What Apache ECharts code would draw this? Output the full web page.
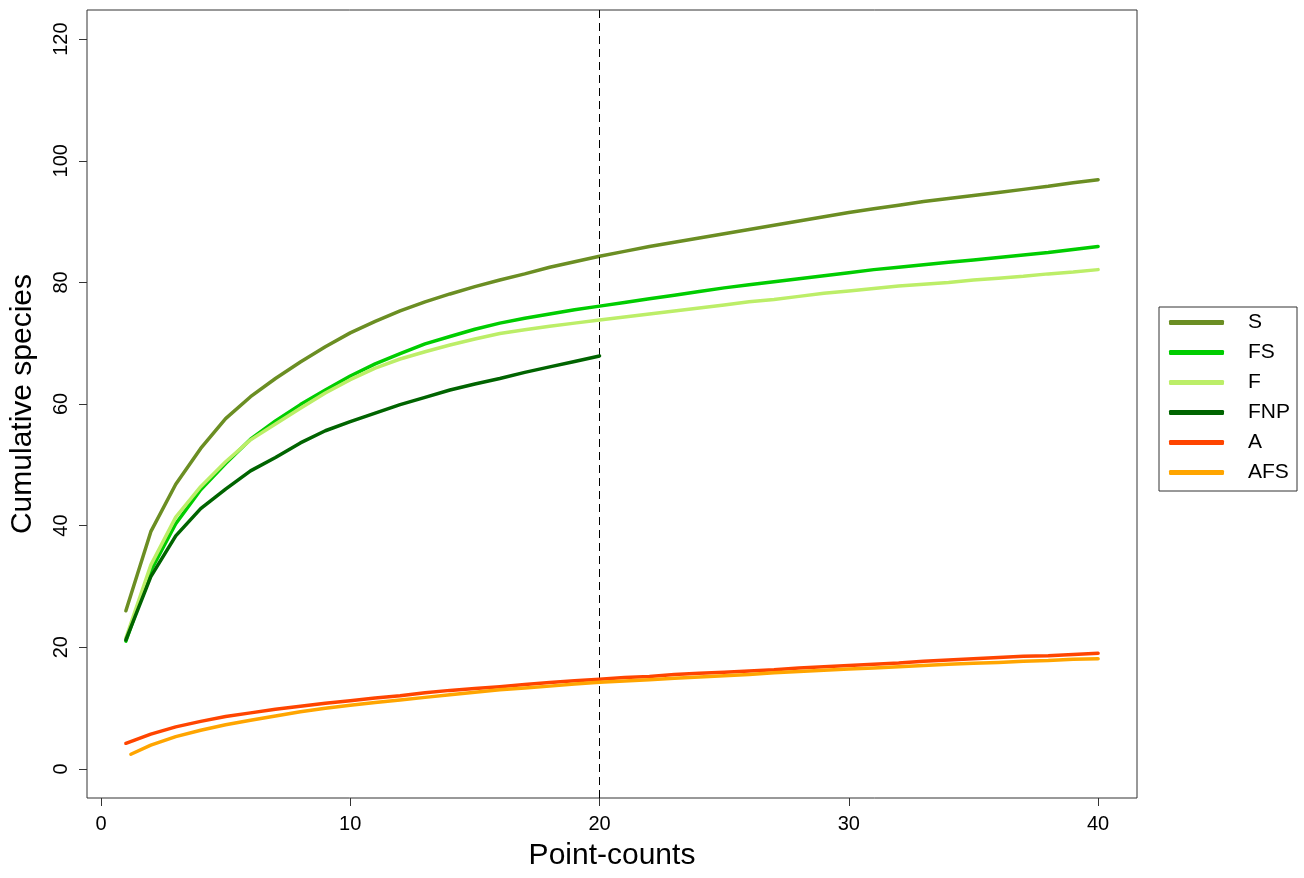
<!DOCTYPE html>
<html><head><meta charset="utf-8">
<script src="https://cdn.jsdelivr.net/npm/echarts@6/dist/echarts.min.js"></script>
<style>html,body{margin:0;padding:0;background:#fff}#c{width:1304px;height:878px}</style>
</head><body><div id="c"></div>
<script>
// ---- data ----
const pointCounts = [1,2,3,4,5,6,7,8,9,10,11,12,13,14,15,16,17,18,19,20,21,22,23,24,25,26,27,28,29,30,31,32,33,34,35,36,37,38,39,40];
const afsX = [1.2,2,3,4,5,6,7,8,9,10,11,12,13,14,15,16,17,18,19,20,21,22,23,24,25,26,27,28,29,30,31,32,33,34,35,36,37,38,39,40];
const S = [26.0,39.0,46.8,52.7,57.6,61.2,64.2,66.9,69.4,71.7,73.6,75.3,76.8,78.1,79.3,80.4,81.4,82.5,83.4,84.3,85.1,85.9,86.6,87.3,88.0,88.7,89.4,90.1,90.8,91.5,92.1,92.7,93.3,93.8,94.3,94.8,95.3,95.8,96.4,96.9];
const FS = [21.0,32.6,40.3,45.9,50.2,54.2,57.2,59.9,62.3,64.6,66.6,68.3,69.9,71.1,72.3,73.3,74.1,74.8,75.5,76.1,76.7,77.3,77.9,78.5,79.1,79.6,80.1,80.6,81.1,81.6,82.1,82.5,82.9,83.3,83.7,84.1,84.5,84.9,85.4,85.9];
const F = [21.5,33.5,41.4,46.4,50.5,54.1,56.7,59.3,61.8,64.0,65.9,67.4,68.6,69.7,70.7,71.6,72.2,72.8,73.3,73.8,74.3,74.8,75.3,75.8,76.3,76.8,77.2,77.7,78.2,78.6,79.0,79.4,79.7,80.0,80.4,80.7,81.0,81.4,81.7,82.1];
const FNP = [21.2,31.6,38.3,42.8,46.0,49.0,51.2,53.6,55.6,57.1,58.5,59.9,61.1,62.3,63.3,64.2,65.2,66.1,67.0,67.9];
const A = [4.2,5.7,6.9,7.8,8.6,9.2,9.8,10.3,10.8,11.2,11.65,12.0,12.5,12.9,13.2,13.5,13.85,14.2,14.5,14.75,15.0,15.2,15.5,15.7,15.9,16.1,16.3,16.6,16.8,17.0,17.2,17.4,17.7,17.9,18.1,18.3,18.5,18.6,18.8,19.0];
const AFS = [2.4,3.9,5.3,6.35,7.25,8.0,8.7,9.4,9.95,10.45,10.9,11.3,11.75,12.2,12.6,13.0,13.3,13.6,13.95,14.25,14.45,14.65,14.9,15.1,15.3,15.5,15.8,16.0,16.2,16.4,16.6,16.8,17.0,17.2,17.35,17.5,17.7,17.8,18.0,18.1];
const seriesNames = ['S','FS','F','FNP','A','AFS'];
const xTicks = [0,10,20,30,40];
const yTicks = [0,20,40,60,80,100,120];
const cutoff = 20;

// ---- chart ----
const colors = {S:'#6B8E23', FS:'#00CD00', F:'#BCEE68', FNP:'#006400', A:'#FF4500', AFS:'#FFA500'};
const pairs = (xs, ys) => ys.map((v, i) => [xs[i], v]);
const dataMap = {
  S: pairs(pointCounts, S), FS: pairs(pointCounts, FS), F: pairs(pointCounts, F),
  FNP: pairs(pointCounts, FNP), A: pairs(pointCounts, A), AFS: pairs(afsX, AFS)
};
const font = '"Liberation Sans", Arial, sans-serif';
const series = seriesNames.map((n, i) => {
  const s = {
    type: 'line', name: n, data: dataMap[n], showSymbol: false, symbol: 'none',
    lineStyle: {color: colors[n], width: 3.5, cap: 'round', join: 'round'},
    itemStyle: {color: colors[n]}, z: 2 + i, animation: false, silent: true
  };
  if (i === 0) {
    s.markLine = {
      silent: true, symbol: ['none', 'none'], label: {show: false}, animation: false,
      lineStyle: {type: [8, 5], color: '#000', width: 1},
      data: [{xAxis: cutoff}]
    };
  }
  return s;
});

const chart = echarts.init(document.getElementById('c'));
chart.setOption({
  animation: false,
  backgroundColor: '#fff',
  textStyle: {fontFamily: font, color: '#000'},
  grid: {left: 86, top: 10, width: 1051, height: 788, show: true, borderColor: '#333', borderWidth: 1, containLabel: false},
  xAxis: {
    type: 'value', min: -0.56, max: 41.56,
    axisLine: {show: false, onZero: false},
    axisTick: {show: true, customValues: xTicks, length: 8, lineStyle: {color: '#333'}},
    axisLabel: {customValues: xTicks, fontSize: 20, color: '#000', margin: 16, fontFamily: font},
    splitLine: {show: false},
    name: 'Point-counts', nameLocation: 'middle', nameGap: 43,
    nameTextStyle: {fontSize: 30, color: '#000', fontFamily: font}
  },
  yAxis: {
    type: 'value', min: -4.8, max: 124.8,
    axisLine: {show: false, onZero: false},
    axisTick: {show: true, customValues: yTicks, length: 8, lineStyle: {color: '#333'}},
    axisLabel: {customValues: yTicks, fontSize: 20, color: '#000', rotate: 90, margin: 16, fontFamily: font},
    splitLine: {show: false},
    name: 'Cumulative species', nameLocation: 'middle', nameGap: 49, nameRotate: 90,
    nameTextStyle: {fontSize: 30, color: '#000', fontFamily: font}
  },
  legend: {
    orient: 'vertical', left: 1159, top: 307,
    data: seriesNames, icon: 'roundRect', itemWidth: 55, itemHeight: 5, itemGap: 9,
    borderColor: '#333', borderWidth: 1, padding: [5, 7, 8, 10],
    textStyle: {fontSize: 21, lineHeight: 21, color: '#000', fontFamily: font, padding: [0, 0, 0, 19]},
    selectedMode: false
  },
  series: series
});
</script>
</body></html>
